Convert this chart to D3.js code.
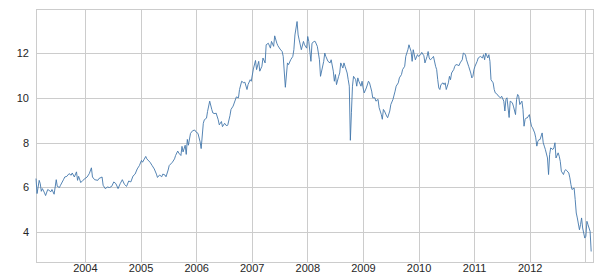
<!DOCTYPE html>
<html>
<head>
<meta charset="utf-8">
<script src="https://cdn.jsdelivr.net/npm/d3@7"></script>
<style>
	body { margin: 0; background: #ffffff; }
	text { font-family: "Liberation Sans", Arial, sans-serif; }
</style>
</head>
<body>
<div id="chart"></div>
<script>
// Weekly series, first week starts here
const firstWeek = new Date(2003, 1, 14)
const lastWeek = new Date(2013, 1, 20)

// week number since firstWeek
const week = [
	0, 1, 3, 4, 5, 6, 8, 9, 11, 12, 14, 15, 17, 19, 20, 22, 23, 26, 27, 29,
	31, 33, 34, 36, 38, 39, 40, 42, 44, 46, 48, 50, 52, 53, 55, 58, 59, 62, 63, 65,
	67, 69, 71, 73, 75, 77, 79, 81, 83, 85, 87, 89, 91, 93, 95, 97, 99, 100, 103, 104,
	107, 109, 111, 113, 114, 116, 118, 119, 121, 122, 124, 125, 128, 130, 131, 133, 134, 136, 137, 138,
	140, 141, 142, 143, 145, 147, 149, 150, 152, 154, 155, 157, 158, 160, 161, 163, 165, 166, 168, 169,
	171, 172, 174, 175, 177, 179, 180, 182, 183, 185, 187, 188, 190, 191, 193, 195, 196, 198, 199, 201,
	202, 204, 206, 207, 209, 210, 212, 213, 215, 216, 218, 220, 221, 223, 224, 226, 227, 229, 231, 232,
	234, 236, 237, 239, 241, 242, 243, 245, 246, 247, 249, 251, 252, 254, 255, 256, 258, 259, 261, 262,
	264, 266, 267, 270, 271, 272, 274, 276, 277, 279, 280, 281, 282, 284, 285, 286, 288, 289, 290, 292,
	293, 294, 295, 296, 297, 298, 300, 301, 302, 303, 305, 306, 307, 308, 310, 312, 313, 315, 316, 318,
	319, 321, 322, 324, 325, 326, 327, 329, 330, 332, 333, 335, 337, 338, 340, 341, 343, 344, 346, 347,
	349, 350, 352, 353, 354, 356, 358, 359, 361, 362, 364, 365, 367, 368, 369, 370, 372, 373, 375, 376,
	377, 378, 379, 380, 382, 383, 384, 385, 387, 388, 389, 390, 392, 393, 394, 395, 397, 398, 400, 401,
	403, 404, 406, 408, 409, 410, 411, 412, 414, 415, 417, 419, 420, 421, 422, 424, 425, 426, 427, 429,
	430, 431, 433, 434, 436, 437, 439, 440, 441, 442, 444, 445, 447, 448, 450, 451, 452, 453, 454, 456,
	457, 458, 459, 460, 461, 463, 464, 465, 466, 468, 469, 470, 471, 472, 473, 475, 476, 477, 478, 480,
	481, 482, 483, 485, 486, 487, 488, 490, 491, 492, 493, 495, 496, 497, 498, 500, 501, 502, 503, 505,
	506, 507, 508, 510, 511, 512, 513, 515, 516, 517, 518, 520, 521
]

const value = [
	6.39, 5.72, 6.31, 6.16, 5.82, 5.94, 5.75, 5.63, 5.90, 5.87, 5.80, 5.90, 5.69, 6.34, 6.04, 5.99, 6.09, 6.36, 6.46, 6.49,
	6.61, 6.54, 6.64, 6.46, 6.69, 6.31, 6.49, 6.21, 6.31, 6.39, 6.46, 6.61, 6.87, 6.46, 6.34, 6.31, 6.39, 6.46, 6.09, 5.94,
	6.01, 5.99, 6.04, 6.24, 6.16, 5.94, 6.16, 6.34, 6.13, 6.04, 6.28, 6.24, 6.50, 6.59, 6.82, 6.97, 7.20, 7.12, 7.38, 7.27,
	7.12, 6.97, 6.82, 6.59, 6.44, 6.55, 6.47, 6.59, 6.55, 6.47, 6.77, 6.97, 7.12, 7.27, 7.42, 7.62, 7.53, 7.42, 7.83, 7.58,
	7.88, 7.47, 8.14, 7.88, 8.41, 8.53, 8.56, 8.48, 8.41, 8.03, 7.73, 8.86, 9.02, 9.09, 9.39, 9.85, 9.47, 9.32, 9.29, 9.32,
	9.02, 8.79, 8.94, 8.71, 8.86, 8.74, 8.79, 9.20, 9.48, 9.63, 9.90, 10.04, 10.00, 10.37, 10.74, 10.67, 10.70, 10.37, 10.59, 10.81,
	10.74, 11.29, 11.67, 11.26, 11.63, 11.19, 11.41, 11.78, 11.56, 12.37, 12.44, 12.22, 12.52, 12.30, 12.77, 12.44, 12.33, 12.18, 12.07, 11.85,
	10.47, 11.56, 11.48, 11.70, 11.85, 12.15, 12.81, 13.41, 12.81, 12.59, 12.15, 12.52, 12.37, 12.22, 12.74, 12.52, 11.63, 12.44, 12.52, 12.52,
	12.30, 11.70, 10.96, 11.63, 12.00, 11.85, 11.63, 11.56, 11.70, 11.19, 10.74, 11.04, 10.59, 10.96, 11.11, 11.56, 11.33, 11.56, 11.41, 11.11,
	10.81, 10.52, 8.10, 9.33, 10.52, 10.96, 10.81, 10.52, 10.89, 10.74, 10.52, 10.74, 10.44, 10.22, 10.44, 10.74, 10.67, 10.30, 10.00, 10.00,
	9.85, 9.93, 9.56, 9.26, 9.04, 9.48, 9.41, 9.19, 9.11, 9.41, 9.70, 9.93, 10.30, 10.52, 10.67, 10.89, 11.04, 11.26, 11.41, 11.85,
	12.15, 12.37, 12.07, 11.63, 12.15, 11.70, 11.93, 11.85, 11.93, 12.03, 11.88, 11.56, 11.85, 12.07, 11.78, 11.70, 11.78, 11.85, 11.41, 11.26,
	10.81, 10.44, 10.37, 10.59, 10.67, 10.59, 10.67, 10.37, 10.67, 10.96, 10.81, 11.11, 11.26, 11.41, 11.48, 11.48, 11.44, 11.56, 11.70, 12.00,
	11.93, 11.70, 11.41, 11.11, 10.89, 10.96, 11.26, 11.41, 11.63, 11.78, 11.85, 11.78, 11.93, 11.70, 12.00, 11.78, 11.93, 11.63, 10.81, 10.67,
	10.37, 10.22, 10.15, 10.07, 10.00, 10.07, 9.85, 9.41, 9.93, 10.00, 9.12, 9.85, 9.78, 9.63, 9.25, 9.93, 10.15, 10.07, 9.70, 9.85,
	9.48, 8.73, 9.03, 9.10, 9.10, 9.25, 8.96, 8.73, 8.66, 8.43, 8.21, 7.84, 8.06, 8.13, 8.13, 8.43, 7.99, 7.84, 7.69, 7.31,
	6.57, 7.46, 7.76, 7.69, 7.76, 7.99, 7.31, 7.54, 7.39, 7.16, 6.72, 6.57, 6.72, 6.79, 6.75, 6.64, 6.42, 6.12, 5.90, 5.97,
	5.45, 4.85, 4.63, 4.10, 4.33, 4.63, 4.18, 3.73, 3.81, 4.48, 4.33, 4.03, 3.13
]

const yTicks = [4, 6, 8, 10, 12]
const yearTicks = [2004, 2005, 2006, 2007, 2008, 2009, 2010, 2011, 2012, 2013]
const yearLabels = ["2004", "2005", "2006", "2007", "2008", "2009", "2010", "2011", "2012", ""]
const yLimits = [2.66, 13.97]

const width = 601
const height = 279
const margin = { top: 9, right: 8, bottom: 17, left: 36 }
const innerW = width - margin.left - margin.right
const innerH = height - margin.top - margin.bottom

const gridColor = "#cccccc"
const lineColor = "#4377ab"
const textColor = "#262626"

function dayAfter(start, w) {
	return new Date(start.getTime() + w * 7 * 24 * 3600 * 1000)
}

const data = week.map((w, i) => ({ date: dayAfter(firstWeek, w), v: value[i] }))

const svg = d3.select("#chart")
	.append("svg")
	.attr("width", width)
	.attr("height", height)

const container = svg.append("g")
	.attr("transform", `translate(${margin.left},${margin.top})`)

const xScale = d3.scaleTime()
	.domain([firstWeek, lastWeek])
	.range([0, innerW])

const yScale = d3.scaleLinear()
	.domain(yLimits)
	.range([innerH, 0])

// X axis with gridlines (ticks at Jan 1 of each year)
const xAxis = d3.axisBottom(xScale)
	.tickValues(yearTicks.map((y) => new Date(y, 0, 1)))
	.tickSize(-innerH)
	.tickPadding(2)
	.tickFormat((d, i) => yearLabels[i])

const xAxisGroup = container.append("g")
	.attr("transform", `translate(0, ${innerH})`)
	.call(xAxis)
xAxisGroup.select(".domain").remove()
xAxisGroup.selectAll("line")
	.attr("stroke", gridColor)
	.attr("shape-rendering", "crispEdges")
xAxisGroup.selectAll("text")
	.attr("font-size", "11px")
	.attr("fill", textColor)

// Y axis with gridlines
const yAxis = d3.axisLeft(yScale)
	.tickValues(yTicks)
	.tickSize(-innerW)
	.tickPadding(7)
	.tickFormat(d3.format("d"))

const yAxisGroup = container.append("g")
	.call(yAxis)
yAxisGroup.select(".domain").remove()
yAxisGroup.selectAll("line")
	.attr("stroke", gridColor)
	.attr("shape-rendering", "crispEdges")
yAxisGroup.selectAll("text")
	.attr("font-size", "11px")
	.attr("fill", textColor)

// frame
container.append("rect")
	.attr("x", 0)
	.attr("y", 0)
	.attr("width", innerW)
	.attr("height", innerH)
	.attr("fill", "none")
	.attr("stroke", gridColor)
	.attr("shape-rendering", "crispEdges")

const line = d3.line()
	.x((d) => xScale(d.date))
	.y((d) => yScale(d.v))

container.append("path")
	.datum(data)
	.attr("fill", "none")
	.attr("stroke", lineColor)
	.attr("stroke-width", 0.9)
	.attr("stroke-linejoin", "round")
	.attr("d", line)
</script>
</body>
</html>
